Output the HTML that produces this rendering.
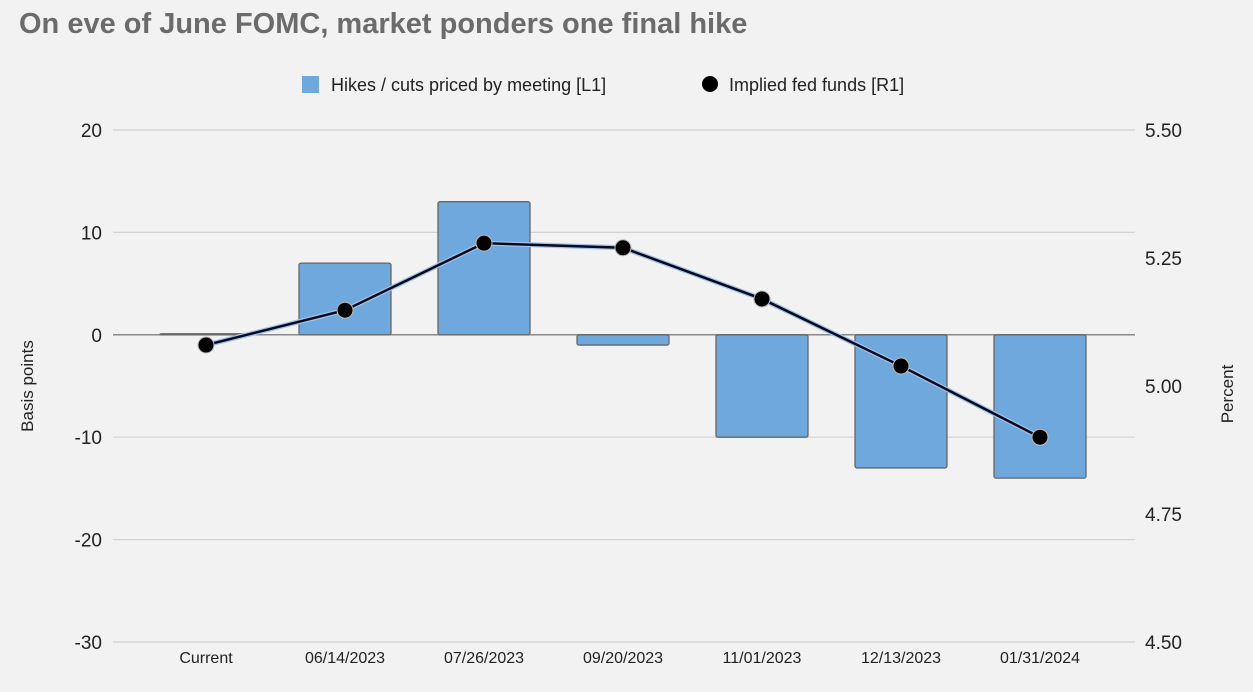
<!DOCTYPE html>
<html><head><meta charset="utf-8"><style>
body{margin:0;background:#f2f2f2;width:1253px;height:687px;overflow:hidden;font-family:"Liberation Sans",sans-serif}
</style></head><body>
<svg width="1253" height="687" xmlns="http://www.w3.org/2000/svg">
<rect width="1253" height="687" fill="#f2f2f2"/>
<text x="19" y="33" font-size="29" font-weight="bold" fill="#6b6b6b">On eve of June FOMC, market ponders one final hike</text>
<g>
<rect x="302" y="76" width="17" height="17" fill="#6fa8dc"/>
<text x="331" y="91" font-size="18" fill="#222">Hikes / cuts priced by meeting [L1]</text>
<circle cx="710" cy="84" r="8" fill="#000"/>
<text x="729" y="91" font-size="18" fill="#222">Implied fed funds [R1]</text>
</g>
<g id="grid"></g><g id="bars"></g><g id="line"></g><g id="axes"></g>
<text transform="translate(33,386) rotate(-90)" text-anchor="middle" font-size="17" fill="#222">Basis points</text>
<text transform="translate(1233,394) rotate(-90)" text-anchor="middle" font-size="17" fill="#222">Percent</text>
</svg>
<script>
const categories=["Current","06/14/2023","07/26/2023","09/20/2023","11/01/2023","12/13/2023","01/31/2024"];
const hikes=[0.1,7,13,-1,-10,-13,-14];
const fedFunds=[5.08,5.148,5.279,5.27,5.17,5.039,4.90];
const leftTicks=[20,10,0,-10,-20,-30];
const rightTicks=["5.50","5.25","5.00","4.75","4.50"];
const NS="http://www.w3.org/2000/svg";
const top_=130,bot=642,x0=136.5,band=139;
const yL=v=>top_+(20-v)/50*(bot-top_);
const yR=v=>top_+(5.5-v)/1.0*(bot-top_);
const xC=i=>x0+band*(i+0.5);
function mk(t,a,p){const e=document.createElementNS(NS,t);for(const k in a)e.setAttribute(k,a[k]);document.getElementById(p).appendChild(e);return e;}
leftTicks.forEach(v=>{
 const l=mk("line",{x1:113,x2:1135,y1:yL(v),y2:yL(v),stroke:v===0?"#888":"#d3d3d3","stroke-width":v===0?1.5:1.2},"grid");
 
 
 const t=mk("text",{x:102,y:yL(v)+7,"text-anchor":"end","font-size":19,fill:"#222"},"axes");t.textContent=v;
 
 
});
rightTicks.forEach(v=>{
 const t=mk("text",{x:1145,y:yR(+v)+7,"font-size":19,fill:"#222"},"axes");t.textContent=v;
 
 
});
categories.forEach((c,i)=>{
 const t=mk("text",{x:xC(i),y:663,"text-anchor":"middle","font-size":16,fill:"#222"},"axes");t.textContent=c;
 
 
 const v=hikes[i],y1=Math.min(yL(v),yL(0)),h=Math.max(Math.abs(yL(v)-yL(0)),1);
 const r=mk("rect",{x:xC(i)-46,y:y1,width:92,height:h,fill:"#6fa8dc",stroke:"#666","stroke-width":1.3,rx:2},"bars");
 
 
});
const pts=fedFunds.map((v,i)=>xC(i)+","+yR(v)).join(" ");
const h=mk("polyline",{points:pts,fill:"none",stroke:"#9cc3f0","stroke-width":5},"line");


const pl=mk("polyline",{points:pts,fill:"none",stroke:"#0a0a1a","stroke-width":2.5},"line");


fedFunds.forEach((v,i)=>{
 const c=mk("circle",{cx:xC(i),cy:yR(v),r:8,fill:"#000",stroke:"#bbb","stroke-width":1},"line");
 
 
});
</script>
</body></html>
